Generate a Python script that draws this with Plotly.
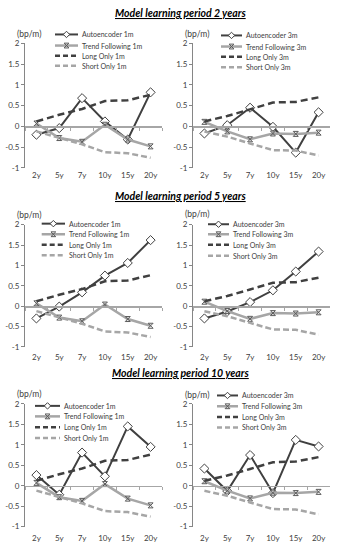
import plotly.graph_objects as go

# ---------------- data ----------------
categories = ["2y", "5y", "7y", "10y", "15y", "20y"]
ytick_vals = [-1, -0.5, 0, 0.5, 1, 1.5, 2]
ytick_text = ["-1", "-0.5", "0", "0.5", "1", "1.5", "2"]

long_1m = [0.12, 0.28, 0.42, 0.61, 0.63, 0.76]
short_1m = [-0.12, -0.27, -0.43, -0.62, -0.645, -0.755]
trend_1m = [0.07, -0.28, -0.37, 0.04, -0.315, -0.48]
long_3m = [0.12, 0.25, 0.41, 0.575, 0.59, 0.70]
short_3m = [-0.125, -0.245, -0.41, -0.57, -0.58, -0.70]
trend_3m = [0.11, -0.12, -0.31, -0.17, -0.18, -0.15]

ae_2y_1m = [-0.20, -0.04, 0.68, 0.12, -0.315, 0.82]
ae_2y_3m = [-0.17, 0.03, 0.45, -0.01, -0.63, 0.34]
ae_5y_1m = [-0.30, -0.01, 0.34, 0.75, 1.06, 1.62]
ae_5y_3m = [-0.30, -0.13, 0.10, 0.39, 0.85, 1.34]
ae_10y_1m = [0.26, -0.22, 0.81, 0.23, 1.45, 0.95]
ae_10y_3m = [0.42, -0.13, 0.75, -0.18, 1.12, 0.96]

section_titles = ["Model learning period 2 years",
                  "Model learning period 5 years",
                  "Model learning period 10 years"]
unit_label = "(bp/m)"

# ---------------- layout geometry (pixels) ----------------
W, H = 337, 550
FONT = "Lato"
DARK = "#404040"
LIGHT = "#a6a6a6"
AXIS = "#868686"


def fx(x):
    return x / W


def fy(y):
    return 1 - y / H


col_left = [25, 193]
plot_w = 137
row_top = [39, 223.7, 406.3]
row_bot = [166, 348.3, 531.3]
label_y = [174, 359.5, 543.5]
title_y = [8.5, 195, 375]
unit_y = [[30, 30], [214, 213], [396.7, 397.7]]

# legend geometry per panel: line x0, line x1, text x, row ys
leg_geo = [
    [(55, 78, 80, [30, 41.3, 51.7, 62]), (221, 242, 244, [31, 42.3, 52.7, 63.3])],
    [(41.7, 65, 67, [222.7, 233.5, 244.3, 255]), (208, 229, 231, [223.3, 233.5, 244.3, 255.3])],
    [(35, 60, 62, [408.3, 419, 430, 441]), (217, 238, 240, [397.7, 408.7, 419.7, 430.3])],
]

panels = [
    [(ae_2y_1m, "1m"), (ae_2y_3m, "3m")],
    [(ae_5y_1m, "1m"), (ae_5y_3m, "3m")],
    [(ae_10y_1m, "1m"), (ae_10y_3m, "3m")],
]

fig = go.Figure()
shapes = []
annotations = []
layout_axes = {}

idx = 0
for r in range(3):
    for c in range(2):
        idx += 1
        ae, hz = panels[r][c]
        tf = trend_1m if hz == "1m" else trend_3m
        lo = long_1m if hz == "1m" else long_3m
        so = short_1m if hz == "1m" else short_3m
        xa = "x" if idx == 1 else f"x{idx}"
        ya = "y" if idx == 1 else f"y{idx}"

        fig.add_trace(go.Scatter(x=categories, y=ae, xaxis=xa, yaxis=ya, mode="lines+markers",
                                 name=f"Autoencoder {hz}", showlegend=False,
                                 line=dict(color=DARK, width=2),
                                 marker=dict(symbol="diamond", size=7, color="white",
                                             line=dict(color=DARK, width=1))))
        fig.add_trace(go.Scatter(x=categories, y=tf, xaxis=xa, yaxis=ya, mode="lines+markers",
                                 name=f"Trend Following {hz}", showlegend=False,
                                 line=dict(color=LIGHT, width=2.5),
                                 marker=dict(symbol="hourglass-open", size=5, color="#595959",
                                             line=dict(color="#595959", width=1))))
        fig.add_trace(go.Scatter(x=categories, y=lo, xaxis=xa, yaxis=ya, mode="lines",
                                 name=f"Long Only {hz}", showlegend=False,
                                 line=dict(color=DARK, width=2.5, dash="7px,4px")))
        fig.add_trace(go.Scatter(x=categories, y=so, xaxis=xa, yaxis=ya, mode="lines",
                                 name=f"Short Only {hz}", showlegend=False,
                                 line=dict(color=LIGHT, width=2.5, dash="6px,3px")))

        L = col_left[c]
        top, bot = row_top[r], row_bot[r]
        zero_px = top + (bot - top) * 2 / 3
        standoff = int(round(label_y[r] - zero_px - 10))
        layout_axes["xaxis" if idx == 1 else f"xaxis{idx}"] = dict(
            domain=[fx(L), fx(L + plot_w)], type="category", categoryorder="array",
            categoryarray=categories, range=[-0.5, len(categories) - 0.5],
            anchor="free", position=fy(zero_px), showline=True, linecolor=LIGHT, linewidth=1.5,
            ticks="outside", tickson="boundaries", ticklen=3, tickcolor=LIGHT, tickwidth=1,
            showgrid=False, zeroline=False, ticklabelstandoff=standoff, tickangle=0,
            ticklabeloverflow="allow",
            tickfont=dict(family=FONT, size=8, color=DARK), fixedrange=True)
        layout_axes["yaxis" if idx == 1 else f"yaxis{idx}"] = dict(
            domain=[fy(bot), fy(top)], range=[-1, 2], anchor=xa,
            tickvals=ytick_vals, ticktext=ytick_text, showline=True, linecolor=AXIS,
            linewidth=1, ticks="outside", ticklen=3, tickcolor=AXIS, showgrid=False,
            zeroline=False, tickfont=dict(family=FONT, size=8, color=DARK), fixedrange=True)

        # unit label
        annotations.append(dict(x=fx(L + 4), y=fy(unit_y[r][c]), xref="paper", yref="paper",
                                text=unit_label, showarrow=False, xanchor="center", yanchor="middle",
                                font=dict(family=FONT, size=8.5, color=DARK)))

        # legend
        lx0, lx1, tx, rows = leg_geo[r][c]
        names = [f"Autoencoder {hz}", f"Trend Following {hz}", f"Long Only {hz}", f"Short Only {hz}"]
        styles = [(DARK, 2, "solid"), (LIGHT, 2.5, "solid"), (DARK, 2.5, "5px,3px"), (LIGHT, 2.5, "5px,3px")]
        for k in range(4):
            col, wd, ds = styles[k]
            shapes.append(dict(type="line", xref="paper", yref="paper", x0=fx(lx0), x1=fx(lx1),
                               y0=fy(rows[k]), y1=fy(rows[k]), line=dict(color=col, width=wd, dash=ds)))
            annotations.append(dict(x=fx(tx), y=fy(rows[k]), xref="paper", yref="paper",
                                    text=names[k], showarrow=False, xanchor="left", yanchor="middle",
                                    font=dict(family=FONT, size=7, color=DARK)))
        mid = (lx0 + lx1) / 2
        shapes.append(dict(type="path", xref="paper", yref="paper", xsizemode="pixel",
                           ysizemode="pixel", xanchor=fx(mid), yanchor=fy(rows[0]),
                           path="M0,3.2 L3.2,0 L0,-3.2 L-3.2,0 Z", fillcolor="white",
                           line=dict(color=DARK, width=1)))
        shapes.append(dict(type="path", xref="paper", yref="paper", xsizemode="pixel",
                           ysizemode="pixel", xanchor=fx(mid), yanchor=fy(rows[1]),
                           path="M-2.4,-2.4 L2.4,2.4 L-2.4,2.4 L2.4,-2.4 Z", fillcolor="rgba(0,0,0,0)",
                           line=dict(color="#595959", width=1)))

for r in range(3):
    annotations.append(dict(x=fx(180), y=fy(title_y[r]), xref="paper", yref="paper",
                            text=f"<b><i><u>{section_titles[r]}</u></i></b>", showarrow=False,
                            xanchor="center", yanchor="middle",
                            font=dict(family=FONT, size=10.5, color="black")))

fig.update_layout(width=W, height=H, autosize=False, margin=dict(l=0, r=0, t=0, b=0),
                  paper_bgcolor="white", plot_bgcolor="rgba(0,0,0,0)", showlegend=False,
                  shapes=shapes, annotations=annotations, **layout_axes)

fig.write_html("out.html", config={"displayModeBar": False, "staticPlot": True},
               post_script="document.body.style.margin='0';document.body.style.padding='0';"
                           "document.body.style.overflow='hidden';")
